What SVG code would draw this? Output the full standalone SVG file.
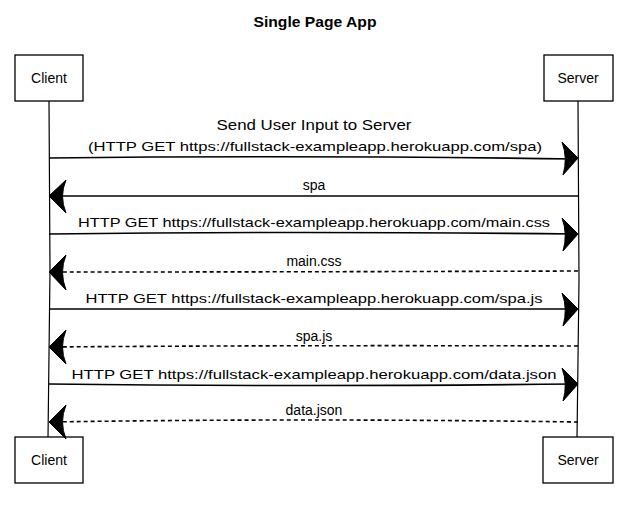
<svg xmlns="http://www.w3.org/2000/svg" width="629" height="505" viewBox="0 0 629 505">
<style>
text{font-family:"Liberation Sans",Arial,sans-serif;font-size:14px;fill:#000;text-anchor:middle}
.title{font-size:15px;font-weight:bold}
.url{font-size:13px}
.box{fill:#fff;stroke:#000;stroke-width:1.3}
.life{stroke:#000;stroke-width:1.2;fill:none}
.msg{stroke:#000;stroke-width:1.6;fill:none}
.dash{stroke-dasharray:4,3}
.head{fill:#000;stroke:#000;stroke-width:1}
</style>
<rect width="629" height="505" fill="#fff"/>
<text class="title" x="315" y="27" textLength="123" lengthAdjust="spacingAndGlyphs">Single Page App</text>
<g id="lifelines">
<path class="life" d="M49,101 L50,270 L48,438"/>
<path class="life" d="M578,101 L579,280 L577,438"/>
</g>
<g id="client-top"><rect class="box" x="15" y="55" width="68" height="46"/><text x="49" y="83">Client</text></g>
<g id="server-top"><rect class="box" x="544" y="55" width="69" height="46"/><text x="578" y="83">Server</text></g>
<g id="client-bottom"><rect class="box" x="15" y="437" width="68" height="46"/><text x="49" y="465">Client</text></g>
<g id="server-bottom"><rect class="box" x="543" y="437" width="70" height="46"/><text x="578" y="465">Server</text></g>
<g id="connectors">
<g id="m1">
<text x="314" y="130" textLength="195" lengthAdjust="spacingAndGlyphs">Send User Input to Server</text>
<text class="url" x="315" y="151" textLength="454" lengthAdjust="spacingAndGlyphs">(HTTP GET https://fullstack-exampleapp.herokuapp.com/spa)</text>
<path class="msg" d="M49,158 Q300,155 576,159"/>
<path class="head" d="M578,158 L562,142 Q568,158 563,175 Z"/>
</g>
<g id="m2">
<text x="314" y="190">spa</text>
<path class="msg" d="M578,196 Q300,197 51,196"/>
<path class="head" d="M49,196 L66,180 Q59,196 66,213 Z"/>
</g>
<g id="m3">
<text class="url" x="314" y="227" textLength="472" lengthAdjust="spacingAndGlyphs">HTTP GET https://fullstack-exampleapp.herokuapp.com/main.css</text>
<path class="msg" d="M49,234 Q300,231 576,234"/>
<path class="head" d="M578,234 L562,218 Q568,234 563,251 Z"/>
</g>
<g id="m4">
<text x="314" y="266">main.css</text>
<path class="msg dash" d="M578,271 Q300,272 51,272"/>
<path class="head" d="M49,272 L66,255 Q59,272 66,290 Z"/>
</g>
<g id="m5">
<text class="url" x="314" y="303" textLength="457" lengthAdjust="spacingAndGlyphs">HTTP GET https://fullstack-exampleapp.herokuapp.com/spa.js</text>
<path class="msg" d="M49,309 Q300,308 576,309"/>
<path class="head" d="M578,309 L562,293 Q568,309 563,326 Z"/>
</g>
<g id="m6">
<text x="314" y="341">spa.js</text>
<path class="msg dash" d="M578,346 Q300,345 51,347"/>
<path class="head" d="M49,347 L66,330 Q59,347 66,364 Z"/>
</g>
<g id="m7">
<text class="url" x="314" y="379" textLength="485" lengthAdjust="spacingAndGlyphs">HTTP GET https://fullstack-exampleapp.herokuapp.com/data.json</text>
<path class="msg" d="M49,384 Q300,387 576,384"/>
<path class="head" d="M578,384 L562,368 Q568,384 563,401 Z"/>
</g>
<g id="m8">
<text x="314" y="415">data.json</text>
<path class="msg dash" d="M578,422 Q300,418 51,422"/>
<path class="head" d="M49,422 L66,405 Q59,422 66,439 Z"/>
</g>
</g>
</svg>
